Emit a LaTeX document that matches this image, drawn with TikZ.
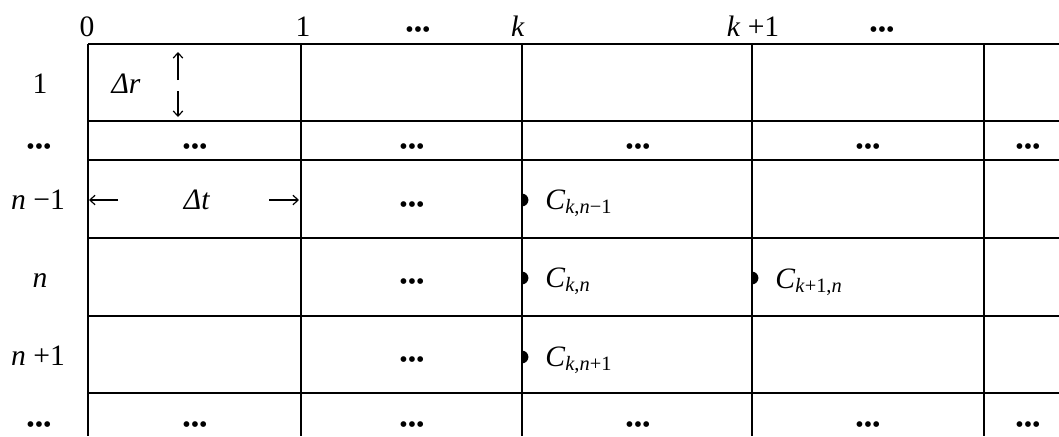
\documentclass[tikz,border=0pt]{standalone}
\usepackage{fontspec}
\setmainfont{Liberation Serif}
\usetikzlibrary{arrows.meta}
\newcommand{\cidx}[1]{\raisebox{-2.2pt}{\fontsize{10.2}{11}\selectfont #1}}
\begin{document}
\begin{tikzpicture}[x=0.5pt,y=-0.5pt,line join=miter,>={Straight Barb[length=2.6pt,width=4.8pt]},
  gridline/.style={line width=0.7pt},
  lab/.style={font=\fontsize{14.8}{16}\selectfont,inner sep=0pt,anchor=base},
  dotlab/.style={font=\fontsize{12}{13}\selectfont,inner sep=0pt},
  stepmark/.style={line width=0.6pt,->}]
  \useasboundingbox (0,0) rectangle (1059,436);
  % grid
  \foreach \y in {44,121,160,238,316,393}
    \draw[gridline] (88,\y) -- (1059,\y);
  \foreach \x in {88,301,522,752,984}
    \draw[gridline] (\x,44) -- (\x,436);
  % column labels
  \node[lab] (t0) at (87,36) {0};
  \node[lab] (t1) at (303,36) {1};
  \node[dotlab] (tdotsa) at (418,32) {•••};
  \node[lab] (tk) at (518,36) {\textit{k}};
  \node[lab] (tk1) at (753,36) {\textit{k} +1};
  \node[dotlab] (tdotsb) at (882,32) {•••};
  % row labels
  \node[lab] (r1) at (40,93) {1};
  \node[dotlab] (rdotsa) at (39,149) {•••};
  \node[lab] (rnm) at (38,209) {\textit{n} −1};
  \node[lab] (rn) at (40,287) {\textit{n}};
  \node[lab] (rnp) at (38,365) {\textit{n} +1};
  \node[dotlab] (rdotsb) at (39,427) {•••};
  % dots inside the cells
  \foreach \x/\y [count=\i] in {195/149,412/149,638/149,868/149,1028/149,
      412/207,412/284,412/362,195/427,412/427,638/427,868/427,1028/427}
    \node[dotlab] (cdots\i) at (\x,\y) {•••};
  % step sizes
  \node[lab] (dr) at (126,93) {\textit{Δr}};
  \node[lab] (dt) at (197,209) {\textit{Δt}};
  \coordinate (drupa) at (178,80);
  \coordinate (drupb) at (178,52);
  \coordinate (drdna) at (178,91);
  \coordinate (drdnb) at (178,117);
  \coordinate (dtlfa) at (118,200);
  \coordinate (dtlfb) at (89,200);
  \coordinate (dtrta) at (269,200);
  \coordinate (dtrtb) at (299,200);
  \draw[stepmark] (drupa) -- (drupb);
  \draw[stepmark] (drdna) -- (drdnb);
  \draw[stepmark] (dtlfa) -- (dtlfb);
  \draw[stepmark] (dtrta) -- (dtrtb);
  % grid points
  \foreach \x/\y in {522/200,522/278,522/357,752/278}
    \fill (\x,\y-6.4) arc[start angle=90,end angle=-90,radius=3.2pt] -- cycle;
  \node[lab,anchor=base west] (ckm) at (545,209) {\textit{C}\cidx{\textit{k},\textit{n}−1}};
  \node[lab,anchor=base west] (ckn) at (545,287) {\textit{C}\cidx{\textit{k},\textit{n}}};
  \node[lab,anchor=base west] (ckp) at (545,366) {\textit{C}\cidx{\textit{k},\textit{n}+1}};
  \node[lab,anchor=base west] (cpn) at (775,288) {\textit{C}\cidx{\textit{k}+1,\textit{n}}};
\end{tikzpicture}
\end{document}
